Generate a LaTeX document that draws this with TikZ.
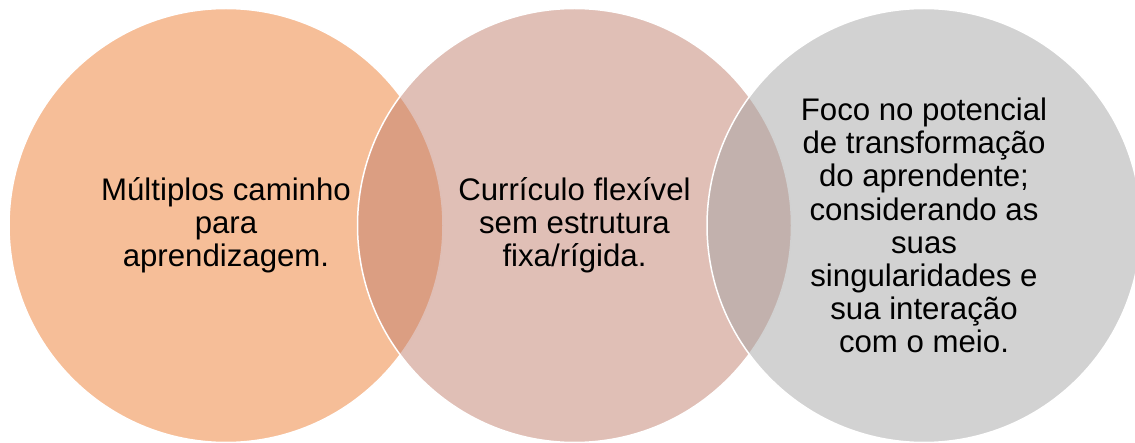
\documentclass[tikz,border=0pt]{standalone}
\usepackage{fontspec}
\setmainfont{Liberation Sans}
\definecolor{corange}{RGB}{237,125,49}
\definecolor{crose}{RGB}{193,127,109}
\definecolor{cgrey}{RGB}{165,165,165}
\tikzset{
  venn/.style={circle, minimum size=434pt, inner sep=0pt, draw=white, line width=1.5pt,
    fill opacity=0.5, text opacity=1, align=center, text=black,
    font=\fontsize{31.2}{33.2}\selectfont}
}
\begin{document}
\begin{tikzpicture}[x=1pt,y=-1pt]
\useasboundingbox (0,0) rectangle (1135,443);
\node[venn, fill=corange] (c1) at (226,225.5) {Múltiplos caminho\\para\\aprendizagem.};
\node[venn, fill=crose] (c2) at (574.5,225.5) {Currículo flexível\\sem estrutura\\fixa/rígida.};
\node[venn, fill=cgrey] (c3) at (924,225.5) {Foco no potencial\\de transformação\\do aprendente;\\considerando as\\suas\\singularidades e\\sua interação\\com o meio.};
\end{tikzpicture}
\end{document}
